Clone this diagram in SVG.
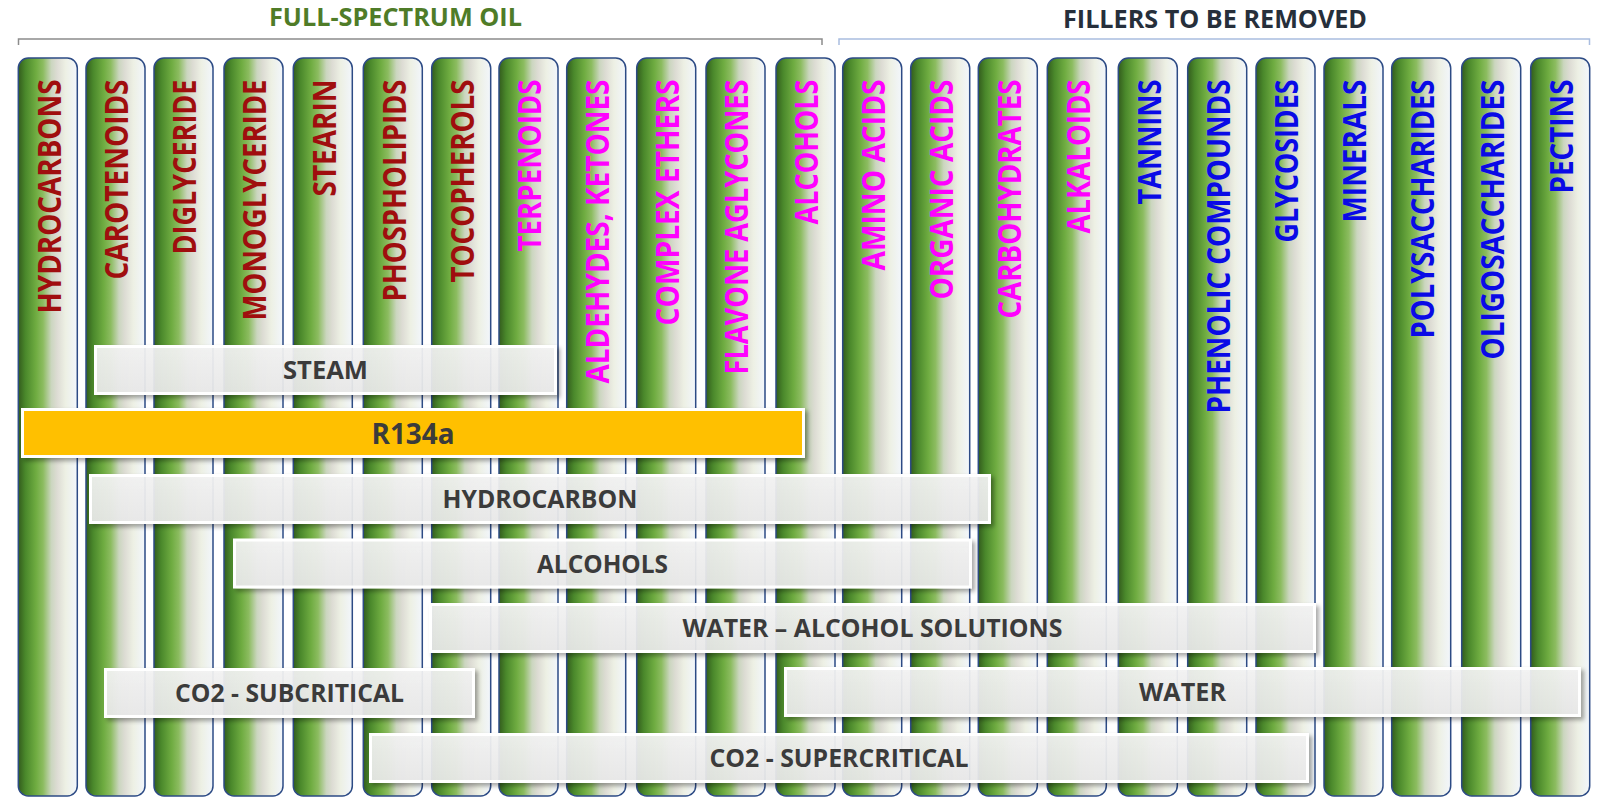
<svg xmlns="http://www.w3.org/2000/svg" width="1600" height="803" viewBox="0 0 1600 803">
<defs>
<linearGradient id="colg" x1="0" y1="0" x2="1" y2="0">
<stop offset="0" stop-color="#335c1d"/>
<stop offset="0.12" stop-color="#4a882b"/>
<stop offset="0.3" stop-color="#6fac41"/>
<stop offset="0.42" stop-color="#8cbc60"/>
<stop offset="0.56" stop-color="#cbd6bf"/>
<stop offset="0.66" stop-color="#dddcd4"/>
<stop offset="0.8" stop-color="#edf0e4"/>
<stop offset="1" stop-color="#f2f6fc"/>
</linearGradient>
<linearGradient id="barg" x1="0" y1="0" x2="0" y2="1">
<stop offset="0" stop-color="#f4f4f4"/>
<stop offset="1" stop-color="#eaeaea"/>
</linearGradient>
<filter id="sh" x="-5%" y="-30%" width="110%" height="170%">
<feDropShadow dx="3" dy="3" stdDeviation="2" flood-color="#000" flood-opacity="0.35"/>
</filter>
</defs>
<style>
.col rect{fill:url(#colg);stroke:#2d4b85;stroke-width:1.5}
.vt{font-family:"Open Sans","Liberation Sans",sans-serif;font-weight:700;font-size:32px}
.red{fill:#a00e0e}
.mag{fill:#ff00ff}
.blu{fill:#0a0ae6}
.bar rect{fill:url(#barg);fill-opacity:0.92;stroke:#ffffff;stroke-width:3;filter:url(#sh)}
.bar text{font-family:"Open Sans","Liberation Sans",sans-serif;font-weight:700;font-size:25px;fill:#3b3b3b;text-anchor:middle}
.ttl{font-family:"Open Sans","Liberation Sans",sans-serif;font-weight:700;font-size:25px}
</style>
<rect width="1600" height="803" fill="#ffffff"/>
<g id="headers">
<text class="ttl" x="269" y="26" textLength="253" lengthAdjust="spacingAndGlyphs" fill="#4f7c28">FULL-SPECTRUM OIL</text>
<path d="M18.5 45 V39 H822 V45" fill="none" stroke="#8c8c8c" stroke-width="1.5"/>
<text class="ttl" x="1063" y="28" textLength="304" lengthAdjust="spacingAndGlyphs" fill="#262f3b">FILLERS TO BE REMOVED</text>
<path d="M839 45 V39 H1589.5 V45" fill="none" stroke="#a9bde0" stroke-width="1.5"/>
</g>
<g id="columns">
<g id="c1" class="col"><rect x="18.3" y="58" width="59" height="738" rx="10"/><text class="vt red" transform="translate(60.5,79.5) rotate(-90)" text-anchor="end" textLength="234" lengthAdjust="spacingAndGlyphs">HYDROCARBONS</text></g>
<g id="c2" class="col"><rect x="86" y="58" width="59" height="738" rx="10"/><text class="vt red" transform="translate(128.2,79.5) rotate(-90)" text-anchor="end" textLength="200" lengthAdjust="spacingAndGlyphs">CAROTENOIDS</text></g>
<g id="c3" class="col"><rect x="154" y="58" width="59" height="738" rx="10"/><text class="vt red" transform="translate(196.2,79.5) rotate(-90)" text-anchor="end" textLength="175" lengthAdjust="spacingAndGlyphs">DIGLYCERIDE</text></g>
<g id="c4" class="col"><rect x="224" y="58" width="59" height="738" rx="10"/><text class="vt red" transform="translate(266.2,79.5) rotate(-90)" text-anchor="end" textLength="241" lengthAdjust="spacingAndGlyphs">MONOGLYCERIDE</text></g>
<g id="c5" class="col"><rect x="293.3" y="58" width="59" height="738" rx="10"/><text class="vt red" transform="translate(335.5,79.5) rotate(-90)" text-anchor="end" textLength="117" lengthAdjust="spacingAndGlyphs">STEARIN</text></g>
<g id="c6" class="col"><rect x="363.3" y="58" width="59" height="738" rx="10"/><text class="vt red" transform="translate(405.5,79.5) rotate(-90)" text-anchor="end" textLength="222" lengthAdjust="spacingAndGlyphs">PHOSPHOLIPIDS</text></g>
<g id="c7" class="col"><rect x="431.7" y="58" width="59" height="738" rx="10"/><text class="vt red" transform="translate(473.9,79.5) rotate(-90)" text-anchor="end" textLength="203" lengthAdjust="spacingAndGlyphs">TOCOPHEROLS</text></g>
<g id="c8" class="col"><rect x="499" y="58" width="59" height="738" rx="10"/><text class="vt mag" transform="translate(541.2,79.5) rotate(-90)" text-anchor="end" textLength="172" lengthAdjust="spacingAndGlyphs">TERPENOIDS</text></g>
<g id="c9" class="col"><rect x="566.7" y="58" width="59" height="738" rx="10"/><text class="vt mag" transform="translate(608.9,79.5) rotate(-90)" text-anchor="end" textLength="304" lengthAdjust="spacingAndGlyphs">ALDEHYDES, KETONES</text></g>
<g id="c10" class="col"><rect x="636.7" y="58" width="59" height="738" rx="10"/><text class="vt mag" transform="translate(678.9,79.5) rotate(-90)" text-anchor="end" textLength="246" lengthAdjust="spacingAndGlyphs">COMPLEX ETHERS</text></g>
<g id="c11" class="col"><rect x="706" y="58" width="59" height="738" rx="10"/><text class="vt mag" transform="translate(748.2,79.5) rotate(-90)" text-anchor="end" textLength="295" lengthAdjust="spacingAndGlyphs">FLAVONE AGLYCONES</text></g>
<g id="c12" class="col"><rect x="776" y="58" width="59" height="738" rx="10"/><text class="vt mag" transform="translate(818.2,79.5) rotate(-90)" text-anchor="end" textLength="145" lengthAdjust="spacingAndGlyphs">ALCOHOLS</text></g>
<g id="c13" class="col"><rect x="842.7" y="58" width="59" height="738" rx="10"/><text class="vt mag" transform="translate(884.9,79.5) rotate(-90)" text-anchor="end" textLength="191" lengthAdjust="spacingAndGlyphs">AMINO ACIDS</text></g>
<g id="c14" class="col"><rect x="910.7" y="58" width="59" height="738" rx="10"/><text class="vt mag" transform="translate(952.9,79.5) rotate(-90)" text-anchor="end" textLength="220" lengthAdjust="spacingAndGlyphs">ORGANIC ACIDS</text></g>
<g id="c15" class="col"><rect x="978.3" y="58" width="59" height="738" rx="10"/><text class="vt mag" transform="translate(1020.5,79.5) rotate(-90)" text-anchor="end" textLength="239" lengthAdjust="spacingAndGlyphs">CARBOHYDRATES</text></g>
<g id="c16" class="col"><rect x="1047.3" y="58" width="59" height="738" rx="10"/><text class="vt mag" transform="translate(1089.5,79.5) rotate(-90)" text-anchor="end" textLength="154" lengthAdjust="spacingAndGlyphs">ALKALOIDS</text></g>
<g id="c17" class="col"><rect x="1118.3" y="58" width="59" height="738" rx="10"/><text class="vt blu" transform="translate(1160.5,79.5) rotate(-90)" text-anchor="end" textLength="125" lengthAdjust="spacingAndGlyphs">TANNINS</text></g>
<g id="c18" class="col"><rect x="1187.7" y="58" width="59" height="738" rx="10"/><text class="vt blu" transform="translate(1229.9,79.5) rotate(-90)" text-anchor="end" textLength="334" lengthAdjust="spacingAndGlyphs">PHENOLIC COMPOUNDS</text></g>
<g id="c19" class="col"><rect x="1256" y="58" width="59" height="738" rx="10"/><text class="vt blu" transform="translate(1298.2,79.5) rotate(-90)" text-anchor="end" textLength="163" lengthAdjust="spacingAndGlyphs">GLYCOSIDES</text></g>
<g id="c20" class="col"><rect x="1324" y="58" width="59" height="738" rx="10"/><text class="vt blu" transform="translate(1366.2,79.5) rotate(-90)" text-anchor="end" textLength="143" lengthAdjust="spacingAndGlyphs">MINERALS</text></g>
<g id="c21" class="col"><rect x="1391.7" y="58" width="59" height="738" rx="10"/><text class="vt blu" transform="translate(1433.9,79.5) rotate(-90)" text-anchor="end" textLength="259" lengthAdjust="spacingAndGlyphs">POLYSACCHARIDES</text></g>
<g id="c22" class="col"><rect x="1461.7" y="58" width="59" height="738" rx="10"/><text class="vt blu" transform="translate(1503.9,79.5) rotate(-90)" text-anchor="end" textLength="280" lengthAdjust="spacingAndGlyphs">OLIGOSACCHARIDES</text></g>
<g id="c23" class="col"><rect x="1530.7" y="58" width="59" height="738" rx="10"/><text class="vt blu" transform="translate(1572.9,79.5) rotate(-90)" text-anchor="end" textLength="114" lengthAdjust="spacingAndGlyphs">PECTINS</text></g>
</g>
<g id="connectors"></g>
<g id="bars">
<g id="b-steam" class="bar"><rect x="95.5" y="346.5" width="460" height="47"/><text x="325.5" y="379" textLength="85" lengthAdjust="spacingAndGlyphs">STEAM</text></g>
<g id="b-r134a" class="bar"><rect x="22.5" y="409.5" width="781" height="47" style="fill:#ffc000;fill-opacity:1"/><text x="413" y="444" textLength="83" lengthAdjust="spacingAndGlyphs" style="font-size:28px">R134a</text></g>
<g id="b-hydrocarbon" class="bar"><rect x="90.5" y="475.5" width="899" height="47"/><text x="540" y="508" textLength="195" lengthAdjust="spacingAndGlyphs">HYDROCARBON</text></g>
<g id="b-alcohols" class="bar"><rect x="234.5" y="540" width="736" height="47"/><text x="602.5" y="572.5" textLength="131" lengthAdjust="spacingAndGlyphs">ALCOHOLS</text></g>
<g id="b-wateralc" class="bar"><rect x="430.5" y="604.5" width="884" height="47"/><text x="872.5" y="637" textLength="380" lengthAdjust="spacingAndGlyphs">WATER – ALCOHOL SOLUTIONS</text></g>
<g id="b-co2sub" class="bar"><rect x="105.5" y="669.5" width="368" height="47"/><text x="289.5" y="702" textLength="229" lengthAdjust="spacingAndGlyphs">CO2 - SUBCRITICAL</text></g>
<g id="b-water" class="bar"><rect x="785.5" y="668.5" width="794" height="47"/><text x="1182.5" y="701" textLength="87" lengthAdjust="spacingAndGlyphs">WATER</text></g>
<g id="b-co2super" class="bar"><rect x="370.5" y="734.5" width="937" height="47"/><text x="839" y="767" textLength="259" lengthAdjust="spacingAndGlyphs">CO2 - SUPERCRITICAL</text></g>
</g>
</svg>
